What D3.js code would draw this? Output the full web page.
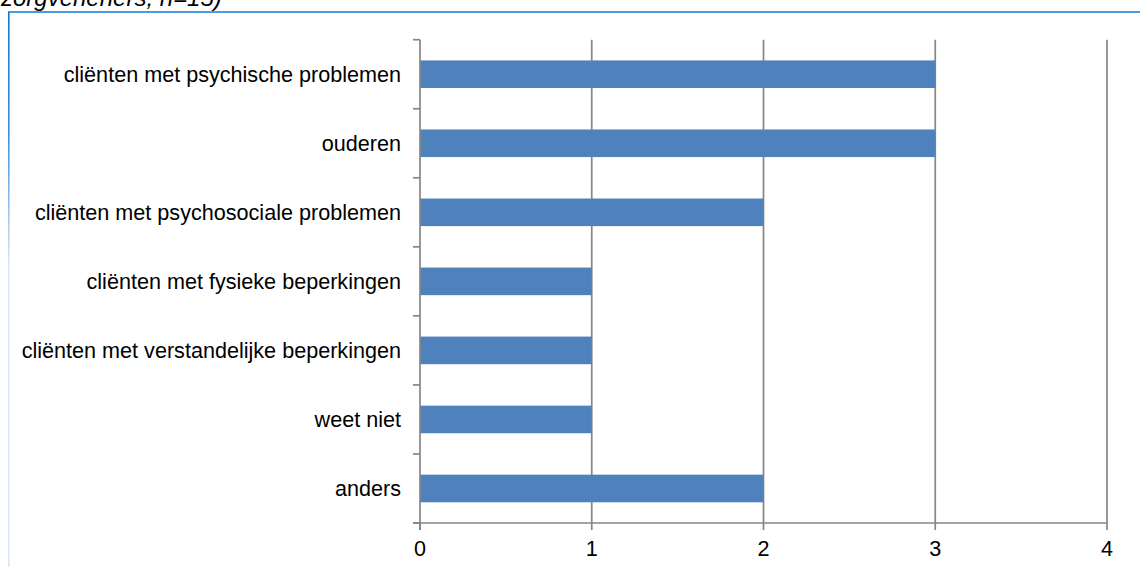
<!DOCTYPE html>
<html>
<head>
<meta charset="utf-8">
<script src="https://cdn.jsdelivr.net/npm/d3@7"></script>
<style>
  html, body { margin: 0; padding: 0; background: #fff; }
  svg { display: block; font-family: "Liberation Sans", Arial, sans-serif; }
</style>
</head>
<body>
<svg id="chart" width="1140" height="567"></svg>
<script>
// Doelgroepen genoemd door zorgverleners (aantallen)
const categories = [
  "cliënten met psychische problemen",
  "ouderen",
  "cliënten met psychosociale problemen",
  "cliënten met fysieke beperkingen",
  "cliënten met verstandelijke beperkingen",
  "weet niet",
  "anders"
];
const counts = [3, 3, 2, 1, 1, 1, 2];
const xTicks = [0, 1, 2, 3, 4];
const captionText = "zorgverleners, n=15)";

const svg = d3.select("#chart");

const plot = { left: 420, right: 1107, top: 39.7, bottom: 523 };
const gridColor = "#868686";
const barColor = "#4f81bd";
const labelSize = 21.6;

// frame of the text box around the chart
const defs = svg.append("defs");
const grad = defs.append("linearGradient")
  .attr("id", "frameFade").attr("x1", 0).attr("y1", 0).attr("x2", 0).attr("y2", 1);
grad.append("stop").attr("offset", "0%").attr("stop-color", "#1579d0");
grad.append("stop").attr("offset", "22%").attr("stop-color", "#3f8fd8");
grad.append("stop").attr("offset", "45%").attr("stop-color", "#dbe6f6");
grad.append("stop").attr("offset", "100%").attr("stop-color", "#dbe6f6");

svg.append("rect")
  .attr("x", 8).attr("y", 12).attr("width", 1.6).attr("height", 555)
  .attr("fill", "url(#frameFade)");
svg.append("line")
  .attr("x1", 8).attr("x2", 1140).attr("y1", 12).attr("y2", 12)
  .attr("stroke", "#1579d0").attr("stroke-width", 1.6);

// caption running off the top edge
svg.append("text")
  .attr("x", 1).attr("y", 6)
  .attr("font-size", 24).attr("font-style", "italic").attr("fill", "#000")
  .text(captionText);

const x = d3.scaleLinear().domain([0, 4]).range([plot.left, plot.right]);
const y = d3.scaleBand().domain(categories)
  .range([plot.top, plot.bottom]).paddingInner(0.6).paddingOuter(0.3);

// vertical gridlines
svg.append("g")
  .selectAll("line").data(xTicks.filter(d => d > 0)).join("line")
  .attr("x1", d => x(d)).attr("x2", d => x(d))
  .attr("y1", plot.top).attr("y2", plot.bottom)
  .attr("stroke", gridColor).attr("stroke-width", 1.7);

// bars
svg.append("g")
  .selectAll("rect").data(categories).join("rect")
  .attr("x", x(0))
  .attr("y", d => y(d))
  .attr("width", (d, i) => x(counts[i]) - x(0))
  .attr("height", y.bandwidth())
  .attr("fill", barColor);

// category axis: line with ticks at band boundaries
const step = y.step();
const boundaries = d3.range(categories.length + 1).map(i => plot.top + i * step);
const yAxis = svg.append("g");
yAxis.append("line")
  .attr("x1", x(0)).attr("x2", x(0))
  .attr("y1", plot.top).attr("y2", plot.bottom + 7)
  .attr("stroke", gridColor).attr("stroke-width", 1.7);
yAxis.selectAll("line.tick").data(boundaries).join("line")
  .attr("class", "tick")
  .attr("x1", x(0) - 7).attr("x2", x(0))
  .attr("y1", d => d).attr("y2", d => d)
  .attr("stroke", gridColor).attr("stroke-width", 1.7);
yAxis.selectAll("text").data(categories).join("text")
  .attr("x", 401)
  .attr("y", d => y(d) + y.bandwidth() / 2 + 7.8)
  .attr("text-anchor", "end")
  .attr("font-size", labelSize).attr("fill", "#000")
  .text(d => d);

// value axis along the bottom
const xAxis = svg.append("g");
xAxis.append("line")
  .attr("x1", x(0) - 7).attr("x2", plot.right)
  .attr("y1", plot.bottom).attr("y2", plot.bottom)
  .attr("stroke", gridColor).attr("stroke-width", 1.7);
xAxis.selectAll("line.tick").data(xTicks).join("line")
  .attr("class", "tick")
  .attr("x1", d => x(d)).attr("x2", d => x(d))
  .attr("y1", plot.bottom).attr("y2", plot.bottom + 7)
  .attr("stroke", gridColor).attr("stroke-width", 1.7);
xAxis.selectAll("text").data(xTicks).join("text")
  .attr("x", d => x(d)).attr("y", 556)
  .attr("text-anchor", "middle")
  .attr("font-size", labelSize).attr("fill", "#000")
  .text(d => d);
</script>
</body>
</html>
